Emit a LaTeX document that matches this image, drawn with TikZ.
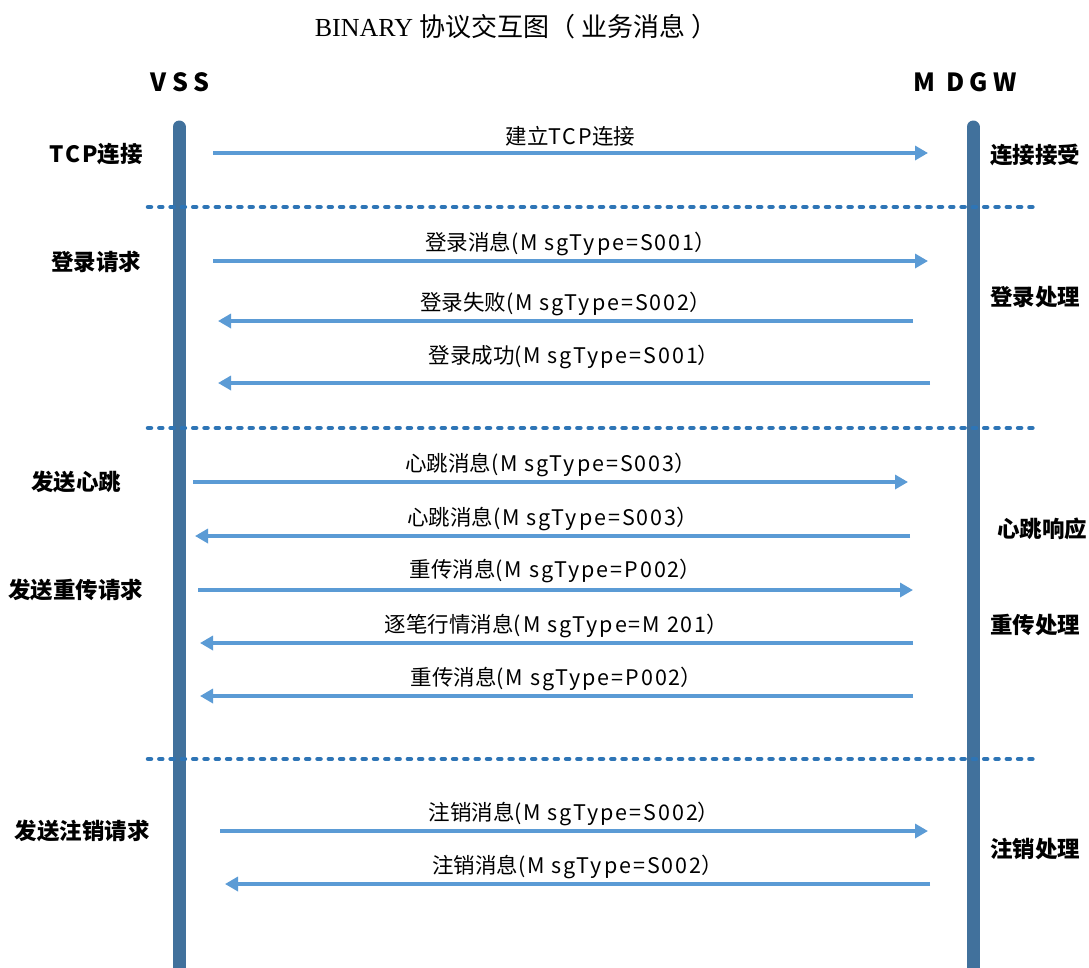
\documentclass[tikz,border=0pt]{standalone}
\usepackage{fontspec}
\usetikzlibrary{arrows.meta}
\setmainfont{Liberation Serif}
\newfontfamily\cjk{Noto Sans CJK SC}
\newfontfamily\lat[LetterSpace=9]{Noto Sans CJK SC}
\newfontfamily\headlat[LetterSpace=22]{Noto Sans CJK SC}
\definecolor{lifec}{HTML}{41719C}
\definecolor{arrc}{HTML}{5B9BD5}
\definecolor{dotc}{HTML}{2E75B6}
\tikzset{
  lifeline/.style={line width=13pt, draw=lifec, line cap=round},
  sepline/.style={line width=4.5pt, draw=dotc, line cap=round, dash pattern=on 3pt off 8.3pt},
  msgarrow/.style={line width=3.5pt, draw=arrc, -{Triangle[length=13pt,width=14pt]}},
  msglabel/.style={font=\cjk\fontsize{21.5}{25}\selectfont, inner sep=0pt, midway, yshift=17pt},
  sidelabel/.style={font=\cjk\bfseries\fontsize{22.5}{27}\selectfont, inner sep=0pt},
  headlabel/.style={font=\headlat\bfseries\fontsize{25}{30}\selectfont, inner sep=0pt},
}
\begin{document}
\begin{tikzpicture}[x=1pt,y=-1pt]
\useasboundingbox (0,0) rectangle (1089,967);
\fill[white] (0,0) rectangle (1089,967);
% title
\node[inner sep=0pt, font=\fontsize{26}{30}\selectfont] (title) at (516,27) {BINARY {\cjk 协议交互图（ 业务消息 ）}};
% heads
\node[headlabel] (vss) at (180,82) {VSS};
\node[headlabel] (mdgw) at (965,82) {M DGW};
% lifelines
\coordinate (vtop) at (179,127);
\coordinate (vbot) at (179,990);
\coordinate (mtop) at (973,127);
\coordinate (mbot) at (973,990);
\draw[lifeline] (vtop) -- (vbot);
\draw[lifeline] (mtop) -- (mbot);
% separators
\coordinate (s1l) at (148,207); \coordinate (s1r) at (1037,207);
\coordinate (s2l) at (148,428); \coordinate (s2r) at (1037,428);
\coordinate (s3l) at (148,759); \coordinate (s3r) at (1037,759);
\draw[sepline] (s1l) -- (s1r);
\draw[sepline] (s2l) -- (s2r);
\draw[sepline] (s3l) -- (s3r);
% side labels
\node[sidelabel] (l1) at (96,154) {{\lat TCP}连接};
\node[sidelabel] (l2) at (96,262) {登录请求};
\node[sidelabel] (l3) at (76,482) {发送心跳};
\node[sidelabel] (l4) at (76,590) {发送重传请求};
\node[sidelabel] (l5) at (82,831) {发送注销请求};
\node[sidelabel] (r1) at (1035,155) {连接接受};
\node[sidelabel] (r2) at (1035,297) {登录处理};
\node[sidelabel] (r3) at (1042,529) {心跳响应};
\node[sidelabel] (r4) at (1035,625) {重传处理};
\node[sidelabel] (r5) at (1035,849) {注销处理};
% arrows
\coordinate (a1s) at (213,153); \coordinate (a1e) at (928,153);
\coordinate (a2s) at (213,261); \coordinate (a2e) at (928,261);
\coordinate (a3s) at (913,321); \coordinate (a3e) at (218,321);
\coordinate (a4s) at (930,383); \coordinate (a4e) at (218,383);
\coordinate (a5s) at (193,482); \coordinate (a5e) at (908,482);
\coordinate (a6s) at (910,536); \coordinate (a6e) at (195,536);
\coordinate (a7s) at (198,590); \coordinate (a7e) at (913,590);
\coordinate (a8s) at (913,643); \coordinate (a8e) at (200,643);
\coordinate (a9s) at (913,696); \coordinate (a9e) at (200,696);
\coordinate (a10s) at (220,831); \coordinate (a10e) at (928,831);
\coordinate (a11s) at (930,884); \coordinate (a11e) at (225,884);
\draw[msgarrow] (a1s) -- node[msglabel] (t1) {建立{\lat TCP}连接} (a1e);
\draw[msgarrow] (a2s) -- node[msglabel] (t2) {登录消息{\lat(M sgType=S001}）} (a2e);
\draw[msgarrow] (a3s) -- node[msglabel] (t3) {登录失败{\lat(M sgType=S002}）} (a3e);
\draw[msgarrow] (a4s) -- node[msglabel, yshift=9pt] (t4) {登录成功{\lat(M sgType=S001}）} (a4e);
\draw[msgarrow] (a5s) -- node[msglabel] (t5) {心跳消息{\lat(M sgType=S003}）} (a5e);
\draw[msgarrow] (a6s) -- node[msglabel] (t6) {心跳消息{\lat(M sgType=S003}）} (a6e);
\draw[msgarrow] (a7s) -- node[msglabel, yshift=2pt] (t7) {重传消息{\lat(M sgType=P002}）} (a7e);
\draw[msgarrow] (a8s) -- node[msglabel] (t8) {逐笔行情消息{\lat(M sgType=M 201}）} (a8e);
\draw[msgarrow] (a9s) -- node[msglabel] (t9) {重传消息{\lat(M sgType=P002}）} (a9e);
\draw[msgarrow] (a10s) -- node[msglabel] (t10) {注销消息{\lat(M sgType=S002}）} (a10e);
\draw[msgarrow] (a11s) -- node[msglabel] (t11) {注销消息{\lat(M sgType=S002}）} (a11e);
\end{tikzpicture}
\end{document}
